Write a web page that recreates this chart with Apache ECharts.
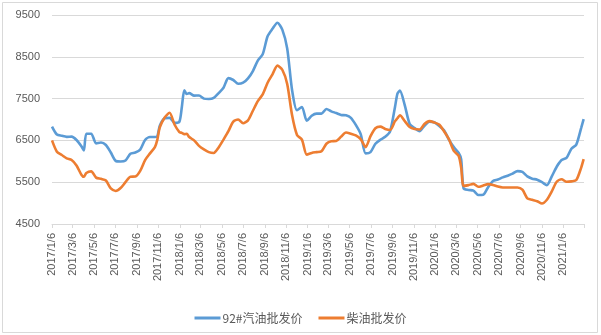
<!DOCTYPE html>
<html><head><meta charset="utf-8">
<script src="https://cdn.jsdelivr.net/npm/echarts@6/dist/echarts.min.js"></script>
<style>html,body{margin:0;padding:0;background:#fff}#c{width:601px;height:335px}</style>
</head><body><div id="c"></div>
<script>
var seriesNames = ['92#汽油批发价', '柴油批发价'];
var dates = [
'2017/1/6','2017/1/20','2017/2/3','2017/2/17','2017/3/3','2017/3/17','2017/3/31','2017/4/7','2017/4/14','2017/4/28',
'2017/5/12','2017/5/26','2017/6/9','2017/6/23','2017/7/7','2017/7/21','2017/8/4','2017/8/18','2017/9/1','2017/9/15',
'2017/9/29','2017/10/13','2017/10/27','2017/11/3','2017/11/10','2017/11/24','2017/12/8','2017/12/22',
'2018/1/5','2018/1/12','2018/1/19','2018/1/26','2018/2/2','2018/2/16','2018/3/2','2018/3/16','2018/3/30','2018/4/13',
'2018/4/27','2018/5/11','2018/5/25','2018/6/8','2018/6/22','2018/7/6','2018/7/20','2018/8/3','2018/8/17','2018/8/31',
'2018/9/14','2018/9/28','2018/10/12','2018/10/26','2018/11/9','2018/11/23','2018/12/7','2018/12/21',
'2019/1/4','2019/1/18','2019/2/1','2019/2/15','2019/3/1','2019/3/15','2019/3/29','2019/4/12','2019/4/26','2019/5/10',
'2019/5/24','2019/6/7','2019/6/21','2019/7/5','2019/7/19','2019/8/2','2019/8/16','2019/8/30','2019/9/13','2019/9/20',
'2019/9/27','2019/10/11','2019/10/25','2019/11/8','2019/11/22','2019/12/6','2019/12/20',
'2020/1/3','2020/1/17','2020/1/31','2020/2/14','2020/2/28','2020/3/13','2020/3/20','2020/3/27','2020/4/10','2020/4/24',
'2020/5/8','2020/5/22','2020/6/5','2020/6/19','2020/7/3','2020/7/17','2020/7/31','2020/8/14','2020/8/28','2020/9/11',
'2020/9/25','2020/10/9','2020/10/23','2020/11/6','2020/11/20','2020/12/4','2020/12/18',
'2021/1/1','2021/1/15','2021/1/29','2021/2/12','2021/2/26','2021/3/5'
];
var gasoline = [
6830,6640,6610,6585,6590,6510,6360,6260,6660,6660,
6430,6450,6390,6210,6010,5995,6020,6180,6210,6280,
6510,6580,6580,6600,6850,7030,7040,6920,
6950,7300,7700,7610,7630,7570,7575,7500,7490,7515,
7630,7760,7990,7945,7855,7880,7985,8160,8410,8560,
8990,9170,9315,9150,8700,7700,7220,7300,
6970,7090,7140,7140,7250,7195,7155,7110,7100,7040,
6870,6650,6190,6220,6420,6515,6585,6715,7300,7620,
7690,7340,6890,6795,6720,6850,6950,
6935,6850,6740,6520,6340,6200,6050,5350,5315,5300,
5195,5200,5380,5530,5565,5615,5655,5705,5765,5745,
5640,5585,5560,5500,5430,5640,5870,
6030,6080,6300,6400,6800,7010
];
var diesel = [
6500,6230,6150,6070,6030,5900,5680,5630,5720,5760,
5610,5580,5540,5350,5290,5360,5500,5630,5635,5770,
6030,6190,6340,6520,6810,7050,7160,6880,
6700,6680,6650,6660,6580,6500,6370,6285,6220,6200,
6330,6520,6720,6950,7000,6910,6980,7210,7440,7600,
7880,8080,8290,8190,7850,7100,6630,6520,
6160,6200,6220,6240,6420,6480,6485,6590,6690,6660,
6620,6530,6340,6600,6790,6830,6775,6750,6960,7030,
7100,6960,6820,6770,6760,6890,6960,
6930,6880,6720,6530,6250,6130,5850,5410,5430,5460,
5390,5420,5455,5435,5395,5375,5375,5375,5375,5320,
5115,5080,5045,4990,5080,5280,5510,
5570,5510,5520,5550,5850,6050
];
var axisStart = '2017/1/6', axisEnd = '2021/3/6';
var yMin = 4500, yMax = 9500, yStep = 1000;

function parseD(s){var p=s.split('/');return Date.UTC(+p[0],+p[1]-1,+p[2]);}
function fmt(t){var d=new Date(t);return d.getUTCFullYear()+'/'+(d.getUTCMonth()+1)+'/'+d.getUTCDate();}
var days=[], idx={};
for(var t=parseD(axisStart); t<=parseD(axisEnd); t+=86400000){idx[fmt(t)]=days.length;days.push(fmt(t));}
var lastI = days.length-1;
function isLabel(i,v){return i<lastI && /^\d{4}\/(1|3|5|7|9|11)\/6$/.test(v);}
function pairs(vals){return dates.map(function(d,i){return [idx[d], vals[i]];});}

var chart = echarts.init(document.getElementById('c'), null, {renderer:'canvas'});
chart.setOption({
  animation:false,
  backgroundColor:'#fff',
  textStyle:{fontFamily:'"Noto Sans CJK SC", "Liberation Sans", sans-serif'},
  graphic:[{type:'rect',shape:{x:2.5,y:2.5,width:595,height:330},style:{fill:'none',stroke:'#d9d9d9',lineWidth:1},silent:true}],
  grid:{left:52,right:17,top:15,bottom:111,containLabel:false},
  legend:{
    data:seriesNames, left:'center', top:307, icon:'rect', itemWidth:26, itemHeight:3, itemGap:16,
    textStyle:{color:'#595959',fontSize:12, padding:[0,0,0,-3]}
  },
  xAxis:{
    type:'category', data:days, boundaryGap:false,
    axisLine:{lineStyle:{color:'#d9d9d9'}},
    axisTick:{show:true,length:4,interval:function(i,v){return i===lastI||isLabel(i,v);},lineStyle:{color:'#d9d9d9'}},
    axisLabel:{interval:isLabel, rotate:90, color:'#595959', fontSize:11, margin:9, fontFamily:'"Liberation Sans", sans-serif'},
    splitLine:{show:false}
  },
  yAxis:{
    type:'value', min:yMin, max:yMax, interval:yStep,
    axisLine:{show:false}, axisTick:{show:false},
    axisLabel:{color:'#595959', fontSize:11, margin:12, fontFamily:'"Liberation Sans", sans-serif', formatter:function(v){return String(v);}},
    splitLine:{lineStyle:{color:'#d9d9d9'}}
  },
  series:[
    {name:seriesNames[0], type:'line', data:pairs(gasoline), showSymbol:false, smooth:0.25, lineStyle:{width:2.6,color:'#5B9BD5'}, itemStyle:{color:'#5B9BD5'}},
    {name:seriesNames[1], type:'line', data:pairs(diesel), showSymbol:false, smooth:0.25, lineStyle:{width:2.6,color:'#ED7D31'}, itemStyle:{color:'#ED7D31'}}
  ]
});
</script></body></html>
